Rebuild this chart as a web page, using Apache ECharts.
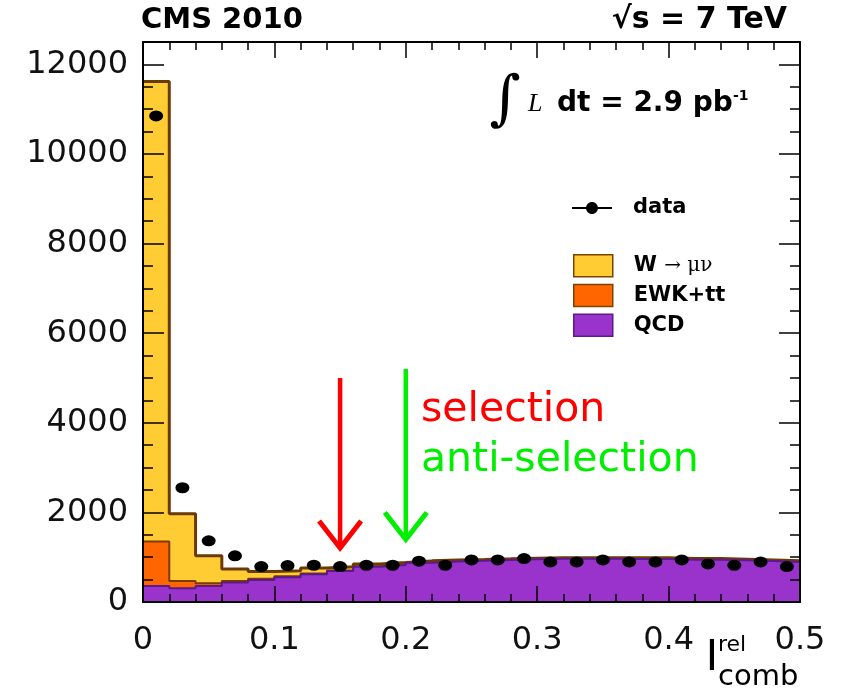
<!DOCTYPE html>
<html><head><meta charset="utf-8">
<script src="https://cdn.jsdelivr.net/npm/echarts@6/dist/echarts.min.js"></script>
<style>html,body{margin:0;padding:0;background:#fff}#c{width:842px;height:691px}</style>
</head><body><div id="c"></div>
<script>
// ---- data ----
const binLowEdges = [0.00,0.02,0.04,0.06,0.08,0.10,0.12,0.14,0.16,0.18,0.20,0.22,0.24,0.26,0.28,0.30,0.32,0.34,0.36,0.38,0.40,0.42,0.44,0.46,0.48];
const binUpperEnd = 0.50;
const qcdCounts  = [358,306,358,433,493,552,619,690,787,828,876,905,920,938,952,965,965,965,960,960,945,945,930,915,893];
const ewkCounts  = [990,160,60,35,25,20,18,15,13,12,12,10,10,10,10,10,10,10,10,10,10,10,10,10,10];
const wmunuCounts= [10270,1504,612,267,162,128,123,80,50,40,30,25,20,15,15,15,15,15,15,15,15,15,15,15,15];
const dataCounts = [10850,2550,1365,1030,790,813,820,790,820,820,910,820,940,940,970,895,895,940,895,895,940,850,820,895,790];
const xTickLabels = ['0','0.1','0.2','0.3','0.4','0.5'];
const arrowX    = [0.15, 0.20];
const arrowTop  = [5000, 5200];
const arrowTip  = [1160, 1350];
const arrowColors = ['#ff0000', '#00ee00'];
const seriesNames = ['data', 'W → μν', 'EWK+tt', 'QCD'];

// cumulative stacks (ROOT THStack style)
const cumQE  = qcdCounts.map((v,i)=>v + ewkCounts[i]);
const cumAll = cumQE.map((v,i)=>v + wmunuCounts[i]);
function stepData(arr){
  const d = binLowEdges.map((e,i)=>[e, arr[i]]);
  d.push([binUpperEnd, arr[arr.length-1]]);
  return d;
}
const centers = binLowEdges.map((e,i)=> (e + (i+1<binLowEdges.length ? binLowEdges[i+1] : binUpperEnd))/2);

const FONT = 'DejaVu Sans';
const chart = echarts.init(document.getElementById('c'), null, {renderer:'canvas'});

const axisCommon = {
  axisLine:{show:true, onZero:false, lineStyle:{color:'#000', width:2}},
  splitLine:{show:false},
  z:10
};
function xAxisDef(pos){
  return Object.assign({}, axisCommon, {
    type:'value', min:0, max:0.5, interval:0.1, position:pos,
    axisTick:{show:true, inside:true, length:16, lineStyle:{color:'#000', width:1.5}},
    minorTick:{show:true, splitNumber:5, length:8, lineStyle:{color:'#000', width:1.5}},
    axisLabel:{show:pos==='bottom', fontFamily:FONT, fontSize:32, color:'#111', margin:23,
      formatter:(v)=> xTickLabels[Math.round(v*10)]}
  });
}
function yAxisDef(pos){
  return Object.assign({}, axisCommon, {
    type:'value', min:0, max:12500, interval:2000, position:pos,
    axisTick:{show:true, inside:true, length:21, lineStyle:{color:'#000', width:1.5}},
    minorTick:{show:true, splitNumber:4, length:10, lineStyle:{color:'#000', width:1.5}},
    axisLabel:{show:pos==='left', fontFamily:FONT, fontSize:32, color:'#111', margin:15,
      showMaxLabel:false, formatter:(v)=> String(v)}
  });
}

const option = {
  backgroundColor:'#fff',
  animation:false,
  grid:{left:143, top:42, right:42, bottom:89, containLabel:false},
  xAxis:[xAxisDef('bottom'), xAxisDef('top')],
  yAxis:[yAxisDef('left'), yAxisDef('right')],
  legend:[
    {
      data:[{name:seriesNames[0], icon:'path://M0,5L40,5L40,7L0,7Z M26,6C26,9.3 23.3,12 20,12C16.7,12 14,9.3 14,6C14,2.7 16.7,0 20,0C23.3,0 26,2.7 26,6Z', itemStyle:{color:'#000', opacity:1}}],
      left:572, top:197, padding:0, itemWidth:40, itemHeight:12, selectedMode:false,
      textStyle:{fontFamily:FONT, fontWeight:'bold', fontSize:21, color:'#000', lineHeight:22, padding:[0,0,0,16]}
    },
    {
      data:[
        {name:seriesNames[1], icon:'rect', itemStyle:{color:'#ffcc33', borderColor:'#7a4500', borderWidth:1.5}},
        {name:seriesNames[2], icon:'rect', itemStyle:{color:'#ff6600', borderColor:'#7a4500', borderWidth:1.5}},
        {name:seriesNames[3], icon:'rect', itemStyle:{color:'#9933cc', borderColor:'#5a1a8a', borderWidth:1.5}}
      ],
      orient:'vertical', left:573, top:254, padding:0, itemWidth:39, itemHeight:22, itemGap:6.3, selectedMode:false,
      formatter:(n)=> n===seriesNames[1] ? '{b|W} {n|→ μν}' : n,
      textStyle:{fontFamily:FONT, fontWeight:'bold', fontSize:21, color:'#000', lineHeight:22, padding:[0,0,0,16],
        rich:{b:{fontFamily:FONT, fontWeight:'bold', fontSize:21, color:'#000'},
              n:{fontFamily:'DejaVu Serif', fontWeight:'normal', fontSize:20, color:'#000'}}}
    }
  ],
  series:[
    {name:seriesNames[1], type:'line', step:'end', data:stepData(cumAll), symbol:'none',
     lineStyle:{color:'#6b3a00', width:3}, itemStyle:{color:'#ffcc33'},
     areaStyle:{color:'#ffcc33', opacity:1, origin:'start'}, z:2},
    {name:seriesNames[2], type:'line', step:'end', data:stepData(cumQE), symbol:'none',
     lineStyle:{color:'#7a3a00', width:2}, itemStyle:{color:'#ff6600'},
     areaStyle:{color:'#ff6600', opacity:1, origin:'start'}, z:3},
    {name:seriesNames[3], type:'line', step:'end', data:stepData(qcdCounts), symbol:'none',
     lineStyle:{color:'#5a1a8a', width:2}, itemStyle:{color:'#9933cc'},
     areaStyle:{color:'#9933cc', opacity:1, origin:'start'}, z:4},
    {name:seriesNames[0], type:'scatter', data:centers.map((c,i)=>[c, dataCounts[i]]),
     symbol:'circle', symbolSize:[14,11], itemStyle:{color:'#000', opacity:1}, z:6}
  ]
};
chart.setOption(option);

// annotations
const g = [];
arrowX.forEach((x,i)=>{
  const p0 = chart.convertToPixel({gridIndex:0}, [x, arrowTop[i]]);
  const p1 = chart.convertToPixel({gridIndex:0}, [x, arrowTip[i]]);
  g.push({type:'line', shape:{x1:p0[0], y1:p0[1], x2:p1[0], y2:p1[1]-2}, style:{stroke:arrowColors[i], lineWidth:4.5}, z:20});
  g.push({type:'polyline', shape:{points:[[p1[0]-21, p1[1]-29],[p1[0], p1[1]-2],[p1[0]+21, p1[1]-29]]},
          style:{stroke:arrowColors[i], lineWidth:5, fill:null, lineJoin:'miter'}, z:20});
});
g.push(
  {type:'text', x:421, y:410, style:{text:'selection', fill:'#ff0000', font:'41px "DejaVu Sans"', verticalAlign:'middle'}, z:20},
  {type:'text', x:421, y:460, style:{text:'anti-selection', fill:'#00ee00', font:'41px "DejaVu Sans"', verticalAlign:'middle'}, z:20},
  {type:'text', x:141, y:20, style:{text:'CMS 2010', fill:'#000', font:'bold 29px "DejaVu Sans"', verticalAlign:'middle'}, z:20},
  {type:'text', x:787, y:20, style:{text:'√s = 7 TeV', fill:'#000', font:'bold 30px "DejaVu Sans"', verticalAlign:'middle', align:'right'}, z:20},
  {type:'text', x:505, y:102, style:{text:'∫', fill:'#000', font:'60px "DejaVu Serif"', verticalAlign:'middle', align:'center'}, z:20},
  {type:'text', x:528, y:104, style:{text:'L', fill:'#000', font:'italic 26px "Liberation Serif"', verticalAlign:'middle'}, z:20},
  {type:'text', x:557, y:104, style:{text:'dt = 2.9 pb', fill:'#000', font:'bold 28px "DejaVu Sans"', verticalAlign:'middle'}, z:20},
  {type:'text', x:733, y:96, style:{text:'-1', fill:'#000', font:'bold 14px "DejaVu Sans"', verticalAlign:'middle'}, z:20},
  {type:'text', x:712, y:659, style:{text:'I', fill:'#000', font:'42px "DejaVu Sans"', verticalAlign:'middle', align:'center'}, z:20},
  {type:'text', x:718, y:645, style:{text:'rel', fill:'#000', font:'22px "DejaVu Sans"', verticalAlign:'middle'}, z:20},
  {type:'text', x:718, y:677, style:{text:'comb', fill:'#000', font:'29px "DejaVu Sans"', verticalAlign:'middle'}, z:20}
);
chart.setOption({graphic:g});
</script>
</body></html>
